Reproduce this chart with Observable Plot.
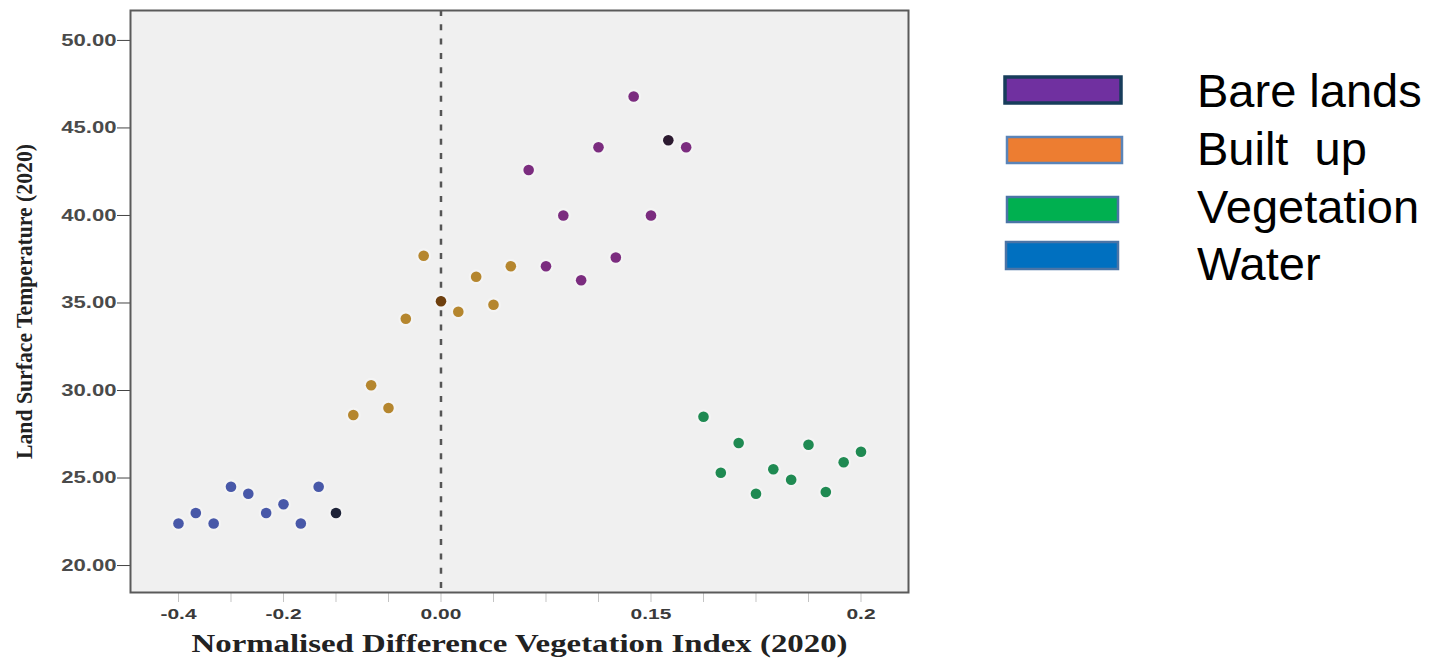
<!DOCTYPE html>
<html><head><meta charset="utf-8">
<script src="https://cdn.jsdelivr.net/npm/d3@7"></script>
<script src="https://cdn.jsdelivr.net/npm/@observablehq/plot@0.6"></script>
<style>
html,body{margin:0;padding:0;background:#fff;}
#wrap{position:relative;width:1429px;height:661px;overflow:hidden;}
#chart{position:absolute;left:0;top:0;}
#legend{position:absolute;left:0;top:0;pointer-events:none;}
</style></head>
<body><div id="wrap"><div id="chart"></div><svg id="legend" width="1429" height="661"></svg></div>
<script>
// ---- data ----
const categories = ["Bare lands", "Built up", "Vegetation", "Water"];
const legendLabels = ["Bare lands", "Built  up", "Vegetation", "Water"];

// x in axis-tick units (tick 0 = "-0.4" ... tick 13 = "0.2"), y = LST
const bareX  = [6.67, 7.0, 7.33, 7.67, 8.0, 8.33, 8.67, 9.0, 9.33, 9.67];
const bareY  = [42.6, 37.1, 40.0, 36.3, 43.9, 37.6, 46.8, 40.0, 44.3, 43.9];
const builtX = [3.33, 3.67, 4.0, 4.33, 4.67, 5.0, 5.33, 5.67, 6.0, 6.33];
const builtY = [28.6, 30.3, 29.0, 34.1, 37.7, 35.1, 34.5, 36.5, 34.9, 37.1];
const vegX   = [10.0, 10.33, 10.67, 11.0, 11.33, 11.67, 12.0, 12.33, 12.67, 13.0];
const vegY   = [28.5, 25.3, 27.0, 24.1, 25.5, 24.9, 26.9, 24.2, 25.9, 26.5];
const waterX = [0.0, 0.33, 0.67, 1.0, 1.33, 1.67, 2.0, 2.33, 2.67, 3.0];
const waterY = [22.4, 23.0, 22.4, 24.5, 24.1, 23.0, 23.5, 22.4, 24.5, 23.0];
const highlightIndex = [8, 5, -1, 9]; // darker (selected) point per category

const xTickPositions = [0, 1, 2, 3, 4, 5, 6, 7, 8, 9, 10, 11, 12, 13];
const xTickLabels = ["-0.4", "", "-0.2", "", "", "0.00", "", "", "", "0.15", "", "", "", "0.2"];
const yTicks = [20, 25, 30, 35, 40, 45, 50];
const zeroLine = [5];
const xTitle = "Normalised Difference Vegetation Index (2020)";
const yTitle = "Land Surface Temperature (2020)";

// ---- styles ----
const dotColors = ["#7b2c7f", "#b5862e", "#1f8a52", "#4858a8"];
const darkDotColors = ["#2c1a30", "#6e3f0e", "#1f8a52", "#1e2338"];
const legendFill = ["#7030a0", "#ed7d31", "#00b050", "#0070c0"];
const legendStroke = ["#173d5b", "#5a84b8", "#4a74a6", "#4a74a6"];

const seriesX = [bareX, builtX, vegX, waterX];
const seriesY = [bareY, builtY, vegY, waterY];
const rows = [];
categories.forEach((c, ci) => seriesX[ci].forEach((x, i) => rows.push({
  cls: c, x, y: seriesY[ci][i],
  color: i === highlightIndex[ci] ? darkDotColors[ci] : dotColors[ci]
})));

const serif = "'Liberation Serif','Times New Roman',serif";
const sans = "'Liberation Sans',Arial,sans-serif";

const plot = Plot.plot({
  width: 940, height: 661,
  marginLeft: 130, marginRight: 32, marginTop: 10, marginBottom: 69,
  style: {background: "transparent", fontFamily: sans},
  x: {domain: [-0.914, 13.905]},
  y: {domain: [18.46, 51.71]},
  color: {type: "identity"},
  marks: [
    Plot.frame({fill: "#f0f0f0", stroke: null}),
    Plot.ruleX(zeroLine, {stroke: "#555", strokeWidth: 2.5, strokeDasharray: "6,8.3"}),
    Plot.dot(rows, {x: "x", y: "y", r: 7.5, fill: "#ffffff", fillOpacity: 0.3}),
    Plot.dot(rows, {x: "x", y: "y", r: 5.3, fill: "color"}),
    Plot.axisY({ticks: yTicks, tickFormat: d => d.toFixed(2), tickSize: 13, tickPadding: 1,
      fontSize: 16, fontWeight: "bold", stroke: "#444", fill: "#4a4a4a", label: null}),
    Plot.axisX({ticks: xTickPositions, tickFormat: d => xTickLabels[xTickPositions.indexOf(d)],
      tickSize: 10, tickPadding: 6, fontSize: 15, fontWeight: "bold",
      stroke: "#c4c4c4", fill: "#3a3a3a", label: null}),
    Plot.frame({stroke: "#5a5a5a", strokeWidth: 2}),
    Plot.text([xTitle], {text: d => d, frameAnchor: "bottom", dy: 59, textAnchor: "middle",
      fontFamily: serif, fontWeight: "bold", fontSize: 25, fill: "#222"}),
    Plot.text([yTitle], {text: d => d, frameAnchor: "left", dx: -106, rotate: -90, textAnchor: "middle",
      fontFamily: serif, fontWeight: "bold", fontSize: 24, fill: "#222"})
  ]
});
document.getElementById("chart").appendChild(plot);

// horizontal stretch of tick texts (the reference is horizontally stretched)
function stretch(t, k) {
  let tr = t.getAttribute("transform") || "";
  const xa = t.getAttribute("x");
  if (xa !== null && !isNaN(+xa) && +xa !== 0) { t.removeAttribute("x"); tr += ` translate(${xa},0)`; }
  t.setAttribute("transform", `${tr} scale(${k},1)`);
}
function fitLength(t, len) {
  t.setAttribute("textLength", len);
  t.setAttribute("lengthAdjust", "spacingAndGlyphs");
}
plot.querySelectorAll('g[aria-label="y-axis tick label"] text').forEach(t => stretch(t, 1.38));
plot.querySelectorAll('g[aria-label="x-axis tick label"] text').forEach(t => stretch(t, 1.4));
plot.querySelectorAll("text").forEach(t => {
  if (t.textContent === xTitle) fitLength(t, 656);
  if (t.textContent === yTitle) fitLength(t, 315);
});

// ---- legend ----
const legendRectX = [1005, 1007, 1007, 1006];
const legendRectY = [77, 137, 197, 242];
const legendRectW = [116, 115, 111, 112];
const legendRectH = [26, 26, 25, 27];
const legendTextY = [107, 165, 223, 280];
const lg = d3.select("#legend");
categories.forEach((c, i) => {
  lg.append("rect").attr("x", legendRectX[i]).attr("y", legendRectY[i])
    .attr("width", legendRectW[i]).attr("height", legendRectH[i])
    .attr("fill", legendFill[i]).attr("stroke", legendStroke[i])
    .attr("stroke-width", i === 0 ? 3.5 : 2.5);
  lg.append("text").attr("x", 1197).attr("y", legendTextY[i])
    .attr("font-family", sans).attr("font-size", 47).attr("fill", "#000")
    .style("white-space", "pre").attr("xml:space", "preserve").text(legendLabels[i]);
});
</script></body></html>
